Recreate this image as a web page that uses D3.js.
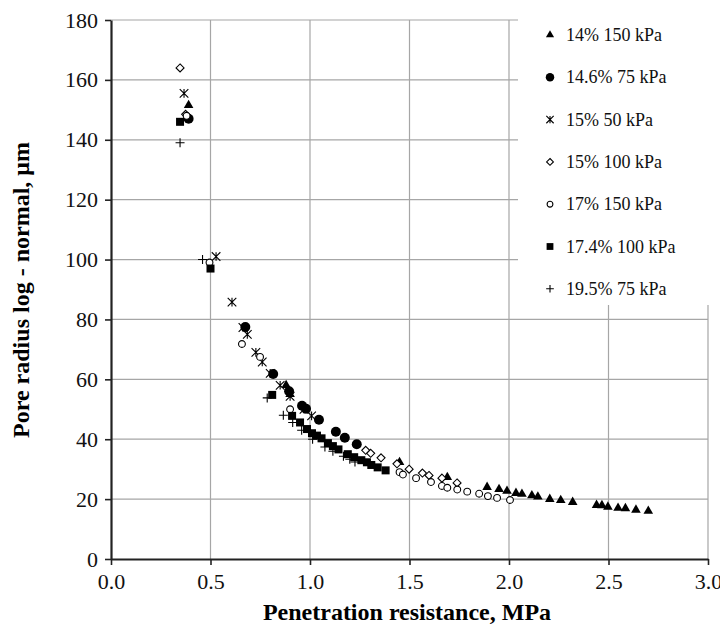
<!DOCTYPE html>
<html>
<head>
<meta charset="utf-8">
<script src="https://cdn.jsdelivr.net/npm/d3@7"></script>
<style>
  body { margin: 0; background: #fff; }
  svg { font-family: "Liberation Serif", "Times New Roman", serif; }
</style>
</head>
<body>
<script>
// Series names (legend order)
const seriesNames = ["14% 150 kPa", "14.6% 75 kPa", "15% 50 kPa", "15% 100 kPa",
                     "17% 150 kPa", "17.4% 100 kPa", "19.5% 75 kPa"];

// [penetration resistance MPa, pore radius µm]
const s14_150 = [[0.39,151.5],[0.88,58],[0.9,55],[1.45,32.3],[1.69,27.3],[1.89,24],[1.95,23.3],
  [1.99,22.7],[2.035,22],[2.065,21.7],[2.115,21.2],[2.145,20.8],[2.205,20],[2.26,19.6],
  [2.32,19],[2.44,18],[2.467,17.9],[2.497,17.4],[2.548,17],[2.585,16.9],[2.638,16.4],[2.7,16]];
const s146_75 = [[0.39,147],[0.675,77.5],[0.815,61.8],[0.895,56],[0.96,51.2],[0.98,50.2],
  [1.045,46.5],[1.13,42.5],[1.175,40.5],[1.235,38.3]];
const s15_50 = [[0.367,155.5],[0.528,101],[0.608,85.8],[0.663,77.3],[0.685,75],[0.728,69],
  [0.76,65.8],[0.8,62],[0.85,58],[0.9,54.3],[0.97,50],[1.008,47.8]];
const s15_100 = [[0.347,164],[0.375,148.5],[1.28,36.3],[1.305,35.3],[1.357,33.8],[1.437,31.8],
  [1.498,30],[1.565,28.7],[1.598,27.9],[1.663,27],[1.739,25.4]];
const s17_150 = [[0.38,148],[0.495,99],[0.658,71.8],[0.749,67.5],[0.9,50],[1.45,29],[1.467,28.2],
  [1.533,27],[1.608,25.7],[1.663,24.4],[1.69,23.8],[1.74,23.2],[1.79,22.5],[1.85,21.8],
  [1.894,21],[1.94,20.4],[2.005,19.7]];
const s174_100 = [[0.347,146],[0.5,97],[0.81,54.8],[0.91,47.8],[0.95,45.6],[0.985,43.4],
  [1.01,42],[1.035,41.2],[1.058,40.3],[1.09,38.7],[1.115,37.7],[1.143,36.6],[1.19,35],
  [1.222,34],[1.258,33],[1.286,32.3],[1.308,31.4],[1.34,30.6],[1.38,29.6]];
const s195_75 = [[0.347,139],[0.46,100],[0.785,53.8],[0.866,48],[0.913,45.6],[0.958,43],
  [1.013,40],[1.075,37.4],[1.115,36],[1.168,34.3],[1.2,33.3],[1.226,32.4]];

const seriesData = [s14_150, s146_75, s15_50, s15_100, s17_150, s174_100, s195_75];
const markerKinds = ["triangle", "circle", "asterisk", "diamond", "ocircle", "square", "plus"];

const xTicks = [0, 0.5, 1, 1.5, 2, 2.5, 3];
const yTicks = [0, 20, 40, 60, 80, 100, 120, 140, 160, 180];

const W = 720, H = 632;
const m = { left: 111, right: 12, top: 20, bottom: 73 };

const svg = d3.select("body").append("svg").attr("width", W).attr("height", H);

const x = d3.scaleLinear().domain([0, 3]).range([m.left, W - m.right]);
const y = d3.scaleLinear().domain([0, 180]).range([H - m.bottom, m.top]);

// grid
svg.append("g").selectAll("line").data(xTicks.slice(1)).join("line")
  .attr("x1", d => x(d)).attr("x2", d => x(d))
  .attr("y1", y(0)).attr("y2", y(180))
  .attr("stroke", "#a6a6a6").attr("stroke-width", 1.2);
svg.append("g").selectAll("line").data(yTicks.slice(1)).join("line")
  .attr("x1", x(0)).attr("x2", x(3))
  .attr("y1", d => y(d)).attr("y2", d => y(d))
  .attr("stroke", "#a6a6a6").attr("stroke-width", 1.2);

// axes
const xAxis = svg.append("g").attr("transform", `translate(0,${y(0)})`)
  .call(d3.axisBottom(x).tickValues(xTicks).tickFormat(d3.format(".1f")).tickSizeInner(6).tickSizeOuter(0));
const yAxis = svg.append("g").attr("transform", `translate(${x(0)},0)`)
  .call(d3.axisLeft(y).tickValues(yTicks).tickSizeInner(6).tickSizeOuter(0));
[xAxis, yAxis].forEach(a => {
  a.select(".domain").attr("stroke", "#222").attr("stroke-width", 2.2);
  a.selectAll(".tick line").attr("stroke", "#222").attr("stroke-width", 1.6);
  a.selectAll("text").attr("font-family", "Liberation Serif").attr("font-size", 22).attr("fill", "#111");
});
xAxis.selectAll("text").attr("dy", "0.95em");
yAxis.selectAll("text").attr("x", -13);

// axis titles
svg.append("text").attr("x", 407).attr("y", 620).attr("text-anchor", "middle")
  .attr("font-weight", "bold").attr("font-size", 24).text("Penetration resistance, MPa");
svg.append("text").attr("transform", "translate(29,290) rotate(-90)").attr("text-anchor", "middle")
  .attr("font-weight", "bold").attr("font-size", 24).text("Pore radius log - normal, μm");

// marker drawing
function marker(g, kind, s) {
  const k = s / 10;
  if (kind === "triangle") {
    g.append("path").attr("d", d3.symbol(d3.symbolTriangle, 40 * k * k)()).attr("fill", "#000");
  } else if (kind === "circle") {
    g.append("circle").attr("r", 5 * k).attr("fill", "#000");
  } else if (kind === "square") {
    g.append("rect").attr("x", -4 * k).attr("y", -4 * k).attr("width", 8 * k).attr("height", 8 * k).attr("fill", "#000");
  } else if (kind === "diamond") {
    const r = 4 * k;
    g.append("path").attr("d", `M0,${-r}L${r},0L0,${r}L${-r},0Z`)
      .attr("fill", "#fff").attr("stroke", "#000").attr("stroke-width", 1.1);
  } else if (kind === "ocircle") {
    g.append("circle").attr("r", 3.4 * k).attr("fill", "#fff").attr("stroke", "#000").attr("stroke-width", 1.1);
  } else if (kind === "plus") {
    const r = 4.5 * k;
    g.append("path").attr("d", `M${-r},0H${r}M0,${-r}V${r}`).attr("stroke", "#000").attr("stroke-width", 1.1);
  } else if (kind === "asterisk") {
    const r = 4.3 * k;
    g.append("path").attr("d", `M${-r},${-r}L${r},${r}M${-r},${r}L${r},${-r}M0,${-r}V${r}`)
      .attr("stroke", "#000").attr("stroke-width", 1.1);
  }
}

// points
seriesData.forEach((pts, i) => {
  svg.append("g").selectAll("g").data(pts).join("g")
    .attr("transform", d => `translate(${x(d[0])},${y(d[1])})`)
    .each(function () { marker(d3.select(this), markerKinds[i], 10); });
});

// legend
const leg = svg.append("g");
leg.append("rect").attr("x", 518).attr("y", 8).attr("width", 200).attr("height", 297).attr("fill", "#fff");
seriesNames.forEach((name, i) => {
  const ly = 35 + i * 42.3;
  const g = leg.append("g").attr("transform", `translate(550,${ly})`);
  marker(g, markerKinds[i], 8.5);
  leg.append("text").attr("x", 566).attr("y", ly + 6).attr("font-size", 18).attr("fill", "#111").text(name);
});
</script>
</body>
</html>
